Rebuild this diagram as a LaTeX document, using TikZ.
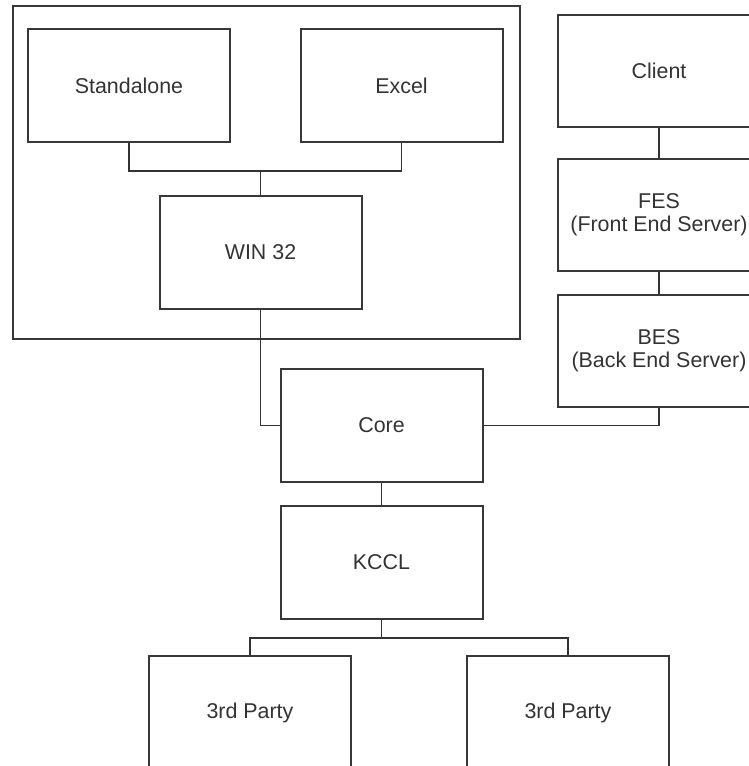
\documentclass[tikz,border=0pt]{standalone}
\usepackage{fontspec}
\setmainfont{Liberation Sans}
\begin{document}
\begin{tikzpicture}[x=0.5pt,y=-0.5pt,
  ink/.style={draw=black!78, line width=1pt},
  wire/.style={draw=black!80, line width=0.85pt},
  unit/.style={ink, rectangle, inner sep=0pt, minimum width=101pt, minimum height=56.5pt,
    align=center, text=black!80, font=\fontsize{10.7pt}{11.3pt}\selectfont},
  group/.style={ink, rectangle, inner sep=0pt, minimum width=253.5pt, minimum height=166.5pt}]
\useasboundingbox (0,0) rectangle (749,766);
\clip (0,0) rectangle (749,766);
\fill[white] (0,0) rectangle (749,766);

% client-side applications
\node[group] (grp) at (266.5,172.5) {};
\node[unit] (std) at (129,85.5) {Standalone};
\node[unit] (exc) at (401.5,85.5) {Excel};
\node[unit] (win) at (260.5,252.5) {WIN 32};

% server chain
\node[unit, minimum height=56pt] (cli) at (659,71) {Client};
\node[unit, minimum height=56pt] (fes) at (659,215) {FES\\(Front End Server)};
\node[unit, minimum height=56pt] (bes) at (659,351) {BES\\(Back End Server)};

% core stack
\node[unit] (core) at (381.5,425.5) {Core};
\node[unit] (kccl) at (381.5,562.5) {KCCL};
\node[unit] (pa) at (250,712.5) {3rd Party};
\node[unit] (pb) at (568,712.5) {3rd Party};

% junction points
\coordinate (jtop) at (260.5,171);
\coordinate (jbot) at (381.5,638);

% connectors
\draw[wire] (std.south) |- (jtop) -| (exc.south);
\draw[wire] (jtop) -- (win.north);
\draw[wire] (win.south) |- (core.west);
\draw[wire] (core.east) -| (bes.south);
\draw[wire] (cli.south) -- (fes.north);
\draw[wire] (fes.south) -- (bes.north);
\draw[wire] (core.south) -- (kccl.north);
\draw[wire] (kccl.south) -- (jbot);
\draw[wire] (pa.north) |- (jbot) -| (pb.north);
\end{tikzpicture}
\end{document}
